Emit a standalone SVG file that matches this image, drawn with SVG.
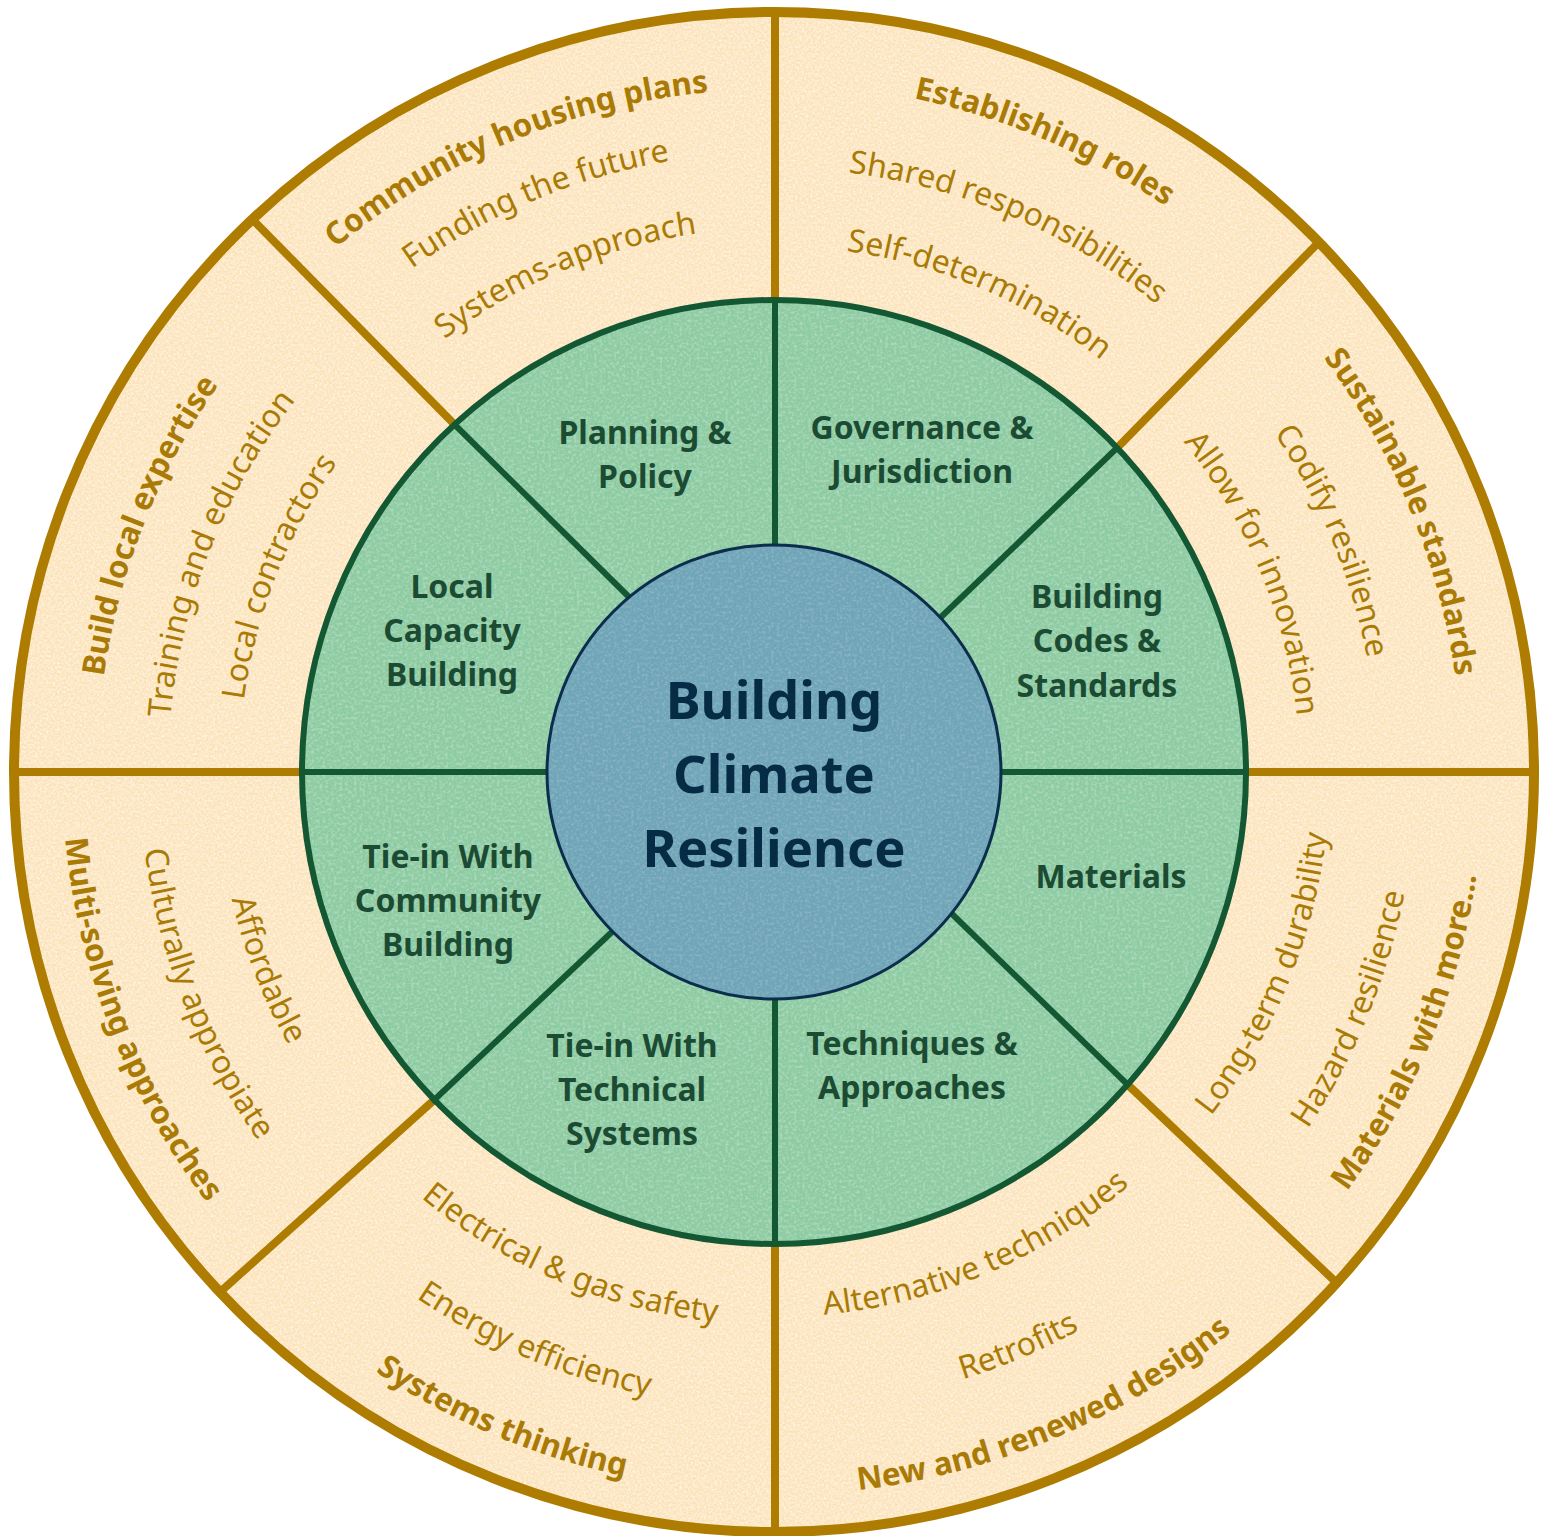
<svg xmlns="http://www.w3.org/2000/svg" xmlns:xlink="http://www.w3.org/1999/xlink" width="1554" height="1536" viewBox="0 0 1554 1536">
  <style>
    .ring-out { fill: #fce2b6; }
    .ring-mid { fill: #8dcca3; }
    .hub { fill: #6ea5b8; stroke: #0c2e4c; stroke-width: 3; }
    .gold { stroke: #ad7c00; stroke-width: 8; fill: none; stroke-linecap: butt; }
    .green { stroke: #135833; stroke-width: 6; fill: none; }
    .ot-b { font-family: "Noto Sans", "Open Sans", sans-serif; font-weight: 700; font-size: 31.5px; fill: #a97b06; text-anchor: middle; }
    .ot { font-family: "Noto Sans", "Open Sans", sans-serif; font-weight: 400; font-size: 32px; fill: #a97b06; text-anchor: middle; }
    .gl { font-family: "Noto Sans", "Open Sans", sans-serif; font-weight: 700; font-size: 32px; fill: #1c4b33; text-anchor: middle; }
    .ct { font-family: "Noto Sans", "Open Sans", sans-serif; font-weight: 700; font-size: 52.5px; fill: #062b45; text-anchor: middle; }
  </style>
  <defs>
    <!-- fine paper grain: pale flecks over the flat fills -->
    <filter id="paper" x="0" y="0" width="100%" height="100%">
      <feTurbulence type="fractalNoise" baseFrequency="0.45" numOctaves="2" seed="7" result="noise"/>
      <feColorMatrix in="noise" type="matrix" values="0 0 0 0 1  0 0 0 0 1  0 0 0 0 1  1.3 0 0 0 -0.45" result="spots"/>
      <feComposite in="spots" in2="SourceGraphic" operator="in" result="grain"/>
      <feMerge><feMergeNode in="SourceGraphic"/><feMergeNode in="grain"/></feMerge>
    </filter>
    <filter id="paper-soft" x="0" y="0" width="100%" height="100%">
      <feTurbulence type="fractalNoise" baseFrequency="0.35" numOctaves="2" seed="11" result="noise"/>
      <feColorMatrix in="noise" type="matrix" values="0 0 0 0 1  0 0 0 0 1  0 0 0 0 1  0.6 0 0 0 -0.26" result="spots"/>
      <feComposite in="spots" in2="SourceGraphic" operator="in" result="grain"/>
      <feMerge><feMergeNode in="SourceGraphic"/><feMergeNode in="grain"/></feMerge>
    </filter>
    <!-- arcs around the hub; upper ones run clockwise over the top, lower ones counter-clockwise under the bottom -->
    <path id="t677" d="M187.7 433.5 A677 677 0 0 1 1360.3 433.5"/>
    <path id="t606" d="M249.2 469 A606 606 0 0 1 1298.8 469"/>
    <path id="t535" d="M310.7 504.5 A535 535 0 0 1 1237.3 504.5"/>
    <path id="t683" d="M182.5 430.5 A683 683 0 0 1 1365.5 430.5"/>
    <path id="t620" d="M237.1 462 A620 620 0 0 1 1310.9 462"/>
    <path id="t544" d="M302.9 500 A544 544 0 0 1 1245.1 500"/>
    <path id="t688" d="M178.2 428 A688 688 0 0 1 1369.8 428"/>
    <path id="t604" d="M250.9 470 A604 604 0 0 1 1297.1 470"/>
    <path id="t526" d="M318.5 509 A526 526 0 0 1 1229.5 509"/>
    <path id="b710" d="M159.1 1127 A710 710 0 0 0 1388.9 1127"/>
    <path id="b642" d="M218 1093 A642 642 0 0 0 1330 1093"/>
    <path id="b556" d="M292.5 1050 A556 556 0 0 0 1255.5 1050"/>
    <path id="b723" d="M147.9 1133.5 A723 723 0 0 0 1400.1 1133.5"/>
    <path id="b636" d="M223.2 1090 A636 636 0 0 0 1324.8 1090"/>
    <path id="b545" d="M302 1044.5 A545 545 0 0 0 1246 1044.5"/>
    <path id="b720" d="M150.5 1132 A720 720 0 0 0 1397.5 1132"/>
    <path id="b553" d="M295.1 1048.5 A553 553 0 0 0 1252.9 1048.5"/>
    <path id="b712" d="M157.4 1128 A712 712 0 0 0 1390.6 1128"/>
    <path id="b634" d="M224.9 1089 A634 634 0 0 0 1323.1 1089"/>
    <path id="b557" d="M291.6 1050.5 A557 557 0 0 0 1256.4 1050.5"/>
  </defs>

  <rect width="1554" height="1536" fill="#ffffff"/>

  <!-- outer ring -->
  <circle class="ring-out" cx="774" cy="772" r="760" filter="url(#paper)"/>

  <!-- spokes -->
  <g id="spokes">
    <g id="spokes-outer">
      <line class="gold" x1="775" y1="10" x2="775" y2="302"/>
      <line class="gold" x1="775" y1="1242" x2="775" y2="1534"/>
      <line class="gold" x1="12" y1="772" x2="304" y2="772"/>
      <line class="gold" x1="1244" y1="772" x2="1536" y2="772"/>
      <line class="gold" x1="252" y1="219" x2="456" y2="426"/>
      <line class="gold" x1="1321" y1="240" x2="1117" y2="448"/>
      <line class="gold" x1="219" y1="1293" x2="433" y2="1101"/>
      <line class="gold" x1="1340" y1="1286" x2="1127" y2="1084"/>
    </g>
  </g>
  <circle cx="774" cy="772" r="760" fill="none" stroke="#ad7c00" stroke-width="10"/>

  <!-- middle ring -->
  <circle class="ring-mid" cx="774" cy="772" r="472" filter="url(#paper-soft)"/>
  <g id="spokes-inner">
    <line class="green" x1="775" y1="300" x2="775" y2="548"/>
    <line class="green" x1="775" y1="996" x2="775" y2="1244"/>
    <line class="green" x1="302" y1="772" x2="550" y2="772"/>
    <line class="green" x1="998" y1="772" x2="1246" y2="772"/>
    <line class="green" x1="455" y1="425" x2="632" y2="600"/>
    <line class="green" x1="1118" y1="447" x2="940" y2="618"/>
    <line class="green" x1="432" y1="1102" x2="614" y2="930"/>
    <line class="green" x1="1128" y1="1085" x2="951" y2="913"/>
  </g>
  <circle cx="774" cy="772" r="472" fill="none" stroke="#135833" stroke-width="6"/>

  <!-- hub -->
  <g id="hub">
    <circle class="hub" cx="774" cy="772" r="227"/>
    <circle cx="774" cy="772" r="225" fill="#6ea5b8" filter="url(#paper-soft)" opacity="0.6"/>
    <text class="ct" x="774" y="719">Building</text>
    <text class="ct" x="774" y="793">Climate</text>
    <text class="ct" x="774" y="867">Resilience</text>
  </g>

  <!-- middle ring themes -->
  <g id="planning-policy">
    <text class="gl" x="645" y="444">Planning &amp;</text>
    <text class="gl" x="645" y="488">Policy</text>
  </g>
  <g id="governance-jurisdiction">
    <text class="gl" x="922" y="439">Governance &amp;</text>
    <text class="gl" x="922" y="483">Jurisdiction</text>
  </g>
  <g id="building-codes-standards">
    <text class="gl" x="1097" y="608">Building</text>
    <text class="gl" x="1097" y="652">Codes &amp;</text>
    <text class="gl" x="1097" y="697">Standards</text>
  </g>
  <g id="materials">
    <text class="gl" x="1111" y="888">Materials</text>
  </g>
  <g id="techniques-approaches">
    <text class="gl" x="912" y="1055">Techniques &amp;</text>
    <text class="gl" x="912" y="1099">Approaches</text>
  </g>
  <g id="technical-systems">
    <text class="gl" x="632" y="1057">Tie-in With</text>
    <text class="gl" x="632" y="1101">Technical</text>
    <text class="gl" x="632" y="1145">Systems</text>
  </g>
  <g id="community-building">
    <text class="gl" x="448" y="868">Tie-in With</text>
    <text class="gl" x="448" y="912">Community</text>
    <text class="gl" x="448" y="956">Building</text>
  </g>
  <g id="local-capacity">
    <text class="gl" x="452" y="598">Local</text>
    <text class="gl" x="452" y="642">Capacity</text>
    <text class="gl" x="452" y="686">Building</text>
  </g>

  <!-- outer ring actions, each set turned to the middle of its sector -->
  <g id="build-local-expertise" transform="rotate(-68.5 774 772)">
    <text class="ot-b"><textPath href="#t677" startOffset="50%">Build local expertise</textPath></text>
    <text class="ot"><textPath href="#t606" startOffset="50%">Training and education</textPath></text>
    <text class="ot"><textPath href="#t535" startOffset="50%">Local contractors</textPath></text>
  </g>
  <g id="community-housing-plans" transform="rotate(-22.7 774 772)">
    <text class="ot-b"><textPath href="#t683" startOffset="50%">Community housing plans</textPath></text>
    <text class="ot"><textPath href="#t620" startOffset="50%">Funding the future</textPath></text>
    <text class="ot"><textPath href="#t544" startOffset="50%">Systems-approach</textPath></text>
  </g>
  <g id="establishing-roles" transform="rotate(23.2 774 772)">
    <text class="ot-b"><textPath href="#t688" startOffset="50%">Establishing roles</textPath></text>
    <text class="ot"><textPath href="#t604" startOffset="50%">Shared responsibilities</textPath></text>
    <text class="ot"><textPath href="#t526" startOffset="50%">Self-determination</textPath></text>
  </g>
  <g id="sustainable-standards" transform="rotate(67.5 774 772)">
    <text class="ot-b"><textPath href="#t688" startOffset="50%">Sustainable standards</textPath></text>
    <text class="ot"><textPath href="#t604" startOffset="50%">Codify resilience</textPath></text>
    <text class="ot"><textPath href="#t526" startOffset="50%">Allow for innovation</textPath></text>
  </g>
  <g id="materials-with-more" transform="rotate(-67.7 774 772)">
    <text class="ot-b"><textPath href="#b710" startOffset="50%">Materials with more...</textPath></text>
    <text class="ot"><textPath href="#b642" startOffset="50%">Hazard resilience</textPath></text>
    <text class="ot"><textPath href="#b556" startOffset="50%">Long-term durability</textPath></text>
  </g>
  <g id="new-renewed-designs" transform="rotate(-23 774 772)">
    <text class="ot-b"><textPath href="#b723" startOffset="50%">New and renewed designs</textPath></text>
    <text class="ot"><textPath href="#b636" startOffset="50%">Retrofits</textPath></text>
    <text class="ot"><textPath href="#b545" startOffset="50%">Alternative techniques</textPath></text>
  </g>
  <g id="systems-thinking" transform="rotate(22.8 774 772)">
    <text class="ot-b"><textPath href="#b720" startOffset="50%">Systems thinking</textPath></text>
    <text class="ot"><textPath href="#b636" startOffset="50%">Energy efficiency</textPath></text>
    <text class="ot"><textPath href="#b553" startOffset="50%">Electrical &amp; gas safety</textPath></text>
  </g>
  <g id="multi-solving" transform="rotate(68.7 774 772)">
    <text class="ot-b"><textPath href="#b712" startOffset="50%">Multi-solving approaches</textPath></text>
    <text class="ot"><textPath href="#b634" startOffset="50%">Culturally appropiate</textPath></text>
    <text class="ot"><textPath href="#b557" startOffset="50%">Affordable</textPath></text>
  </g>
</svg>
